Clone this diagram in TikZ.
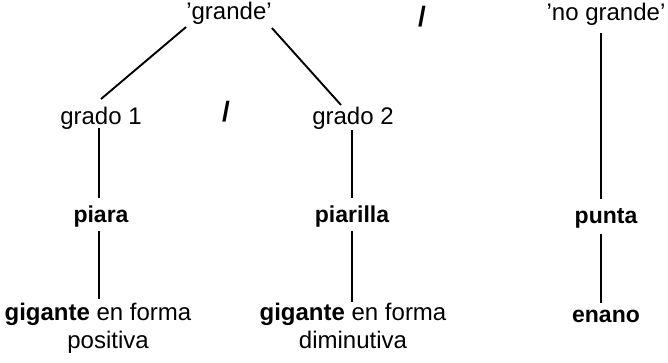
\documentclass[tikz,border=0pt]{standalone}
\usepackage{fontspec}
\setmainfont{Liberation Sans}
\begin{document}
\begin{tikzpicture}[x=1pt,y=1pt,
  lbl/.style={anchor=base, inner sep=0pt, font=\fontsize{24}{28}\selectfont},
  blbl/.style={lbl, font=\fontsize{23}{28}\selectfont\bfseries},
  lnk/.style={line width=1.9pt},
  sepmark/.style={inner sep=0pt, font=\fontsize{28}{30}\selectfont\bfseries}]
\useasboundingbox (0,0) rectangle (668,362);
% top level
\node[lbl] (grande) at (229,342) {'grande'};
\node[sepmark] (s1) at (422,345) {/};
\node[lbl] (ng) at (606,341) {'no grande'};
% second level
\node[lbl] (g1) at (101,238) {grado 1};
\node[sepmark] (s2) at (226,250) {/};
\node[lbl] (g2) at (353,238) {grado 2};
% third level
\node[blbl] (piara) at (101,140) {piara};
\node[blbl] (piarilla) at (352,140) {piarilla};
\node[blbl] (punta) at (606,139) {punta};
% bottom
\node[lbl] (gig1) at (98,42) {\textbf{gigante} en forma};
\node[lbl] (pos1) at (108,14) {positiva};
\node[lbl] (gig2) at (353,42) {\textbf{gigante} en forma};
\node[lbl] (dim2) at (353,14) {diminutiva};
\node[blbl] (enano) at (606,40) {enano};
% connectors
\draw[lnk] ([yshift=-7pt]grande.base west) -- ([yshift=25pt]g1.base);
\draw[lnk] ([yshift=-8pt]grande.base east) -- ([xshift=-12pt,yshift=19pt]g2.base);
\draw[lnk] ([xshift=-2pt,yshift=-4pt]g1.base) -- ([xshift=-2pt,yshift=24pt]piara.base);
\draw[lnk] ([xshift=-2pt,yshift=-9pt]piara.base) -- ([xshift=1pt,yshift=21pt]gig1.base);
\draw[lnk] ([xshift=-1pt,yshift=-6pt]g2.base) -- ([yshift=24pt]piarilla.base);
\draw[lnk] ([yshift=-9pt]piarilla.base) -- ([xshift=-1pt,yshift=18pt]gig2.base);
\draw[lnk] ([xshift=-5pt,yshift=-12pt]ng.base) -- ([xshift=-5pt,yshift=24pt]punta.base);
\draw[lnk] ([xshift=-5pt,yshift=-11pt]punta.base) -- ([xshift=-5pt,yshift=19pt]enano.base);
\end{tikzpicture}
\end{document}
